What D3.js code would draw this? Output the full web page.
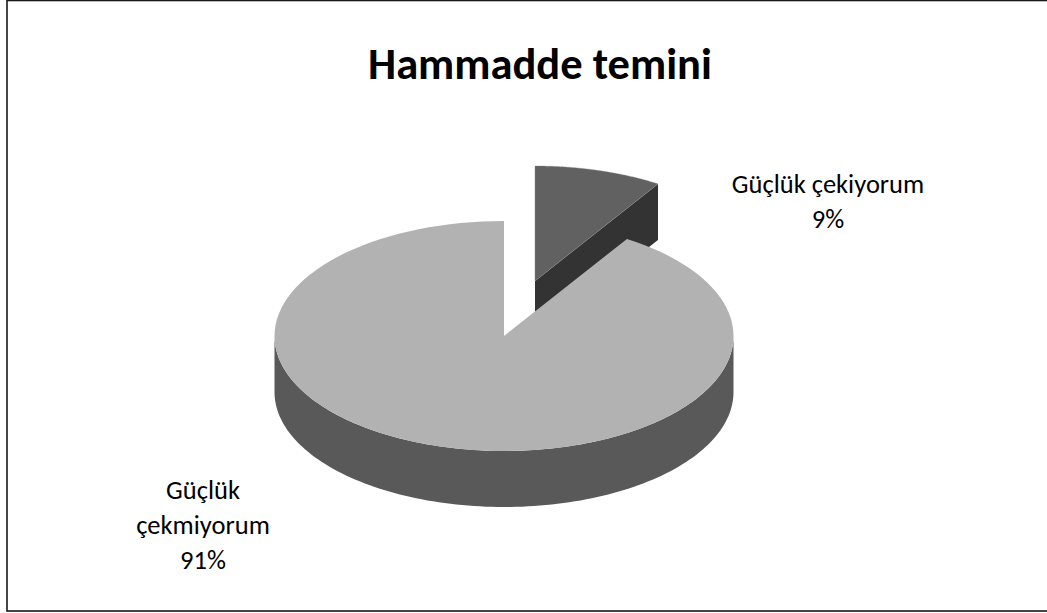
<!DOCTYPE html>
<html><head><meta charset="utf-8">
<style>html,body{margin:0;padding:0;background:#fff}svg{display:block}</style>
<script src="https://cdn.jsdelivr.net/npm/d3@7/dist/d3.min.js"></script></head>
<body><svg width="1047" height="613"></svg>
<script>
const chartTitle = "Hammadde temini";
const categories = ["Güçlük çekiyorum", "Güçlük çekmiyorum"];
const shares = [9, 91];
const labelLines = [["Güçlük çekiyorum", "9%"], ["Güçlük", "çekmiyorum", "91%"]];
const topColors = ["#616161", "#b2b2b2"];
const wallColors = ["#333333", "#595959"];

const svg = d3.select("svg");
const font = "Carlito, Calibri, 'Open Sans', 'Noto Sans', sans-serif";
svg.append("rect").attr("x", 7).attr("y", 0.5).attr("width", 1045).attr("height", 610.5)
  .attr("fill", "#fff").attr("stroke", "#1a1a1a").attr("stroke-width", 1.6);

const cx = 504, cy = 336, rx = 229.5, ry = 115, depth = 56;
const offset = [31, -55];
const arcs = d3.pie().sort(null).value(d => d)(shares);
const pt = (a, c) => [c[0] + rx * Math.sin(a), c[1] - ry * Math.cos(a)];
const path = d3.line();
const sample = (a0, a1, c) => d3.range(0, 121).map(i => pt(a0 + (a1 - a0) * i / 120, c));

const small = arcs[0], big = arcs[1];
const c0 = [cx + offset[0], cy + offset[1]], c1 = [cx, cy];

// exploded slice: visible cut wall and top
const e = pt(small.endAngle, c0);
svg.append("path").attr("fill", wallColors[0])
  .attr("d", path([c0, e, [e[0], e[1] + depth], [c0[0], c0[1] + depth]]) + "Z");
svg.append("path").attr("fill", topColors[0]).attr("stroke", "#8c8c8c").attr("stroke-width", 0.4)
  .attr("d", path([c0, ...sample(small.startAngle, small.endAngle, c0)]) + "Z");

// main slice: front wall and top
const front = sample(Math.PI / 2, 3 * Math.PI / 2, c1);
svg.append("path").attr("fill", wallColors[1])
  .attr("d", path([...front, ...front.slice().reverse().map(p => [p[0], p[1] + depth])]) + "Z");
svg.append("path").attr("fill", topColors[1])
  .attr("d", path([c1, ...sample(big.startAngle, big.endAngle, c1)]) + "Z");

svg.append("text").attr("x", 540).attr("y", 79).attr("text-anchor", "middle")
  .attr("font-family", font).attr("font-size", 44.5).attr("font-weight", 700).attr("fill", "#000").text(chartTitle);

const labelPos = [[828, 193], [203, 499]];
labelLines.forEach((lines, i) => {
  const t = svg.append("text").attr("text-anchor", "middle").attr("font-family", font)
    .attr("font-size", 26.5).attr("fill", "#000");
  lines.forEach((s, j) => t.append("tspan").attr("x", labelPos[i][0])
    .attr("y", labelPos[i][1] + j * 35).text(s));
});
</script></body></html>
